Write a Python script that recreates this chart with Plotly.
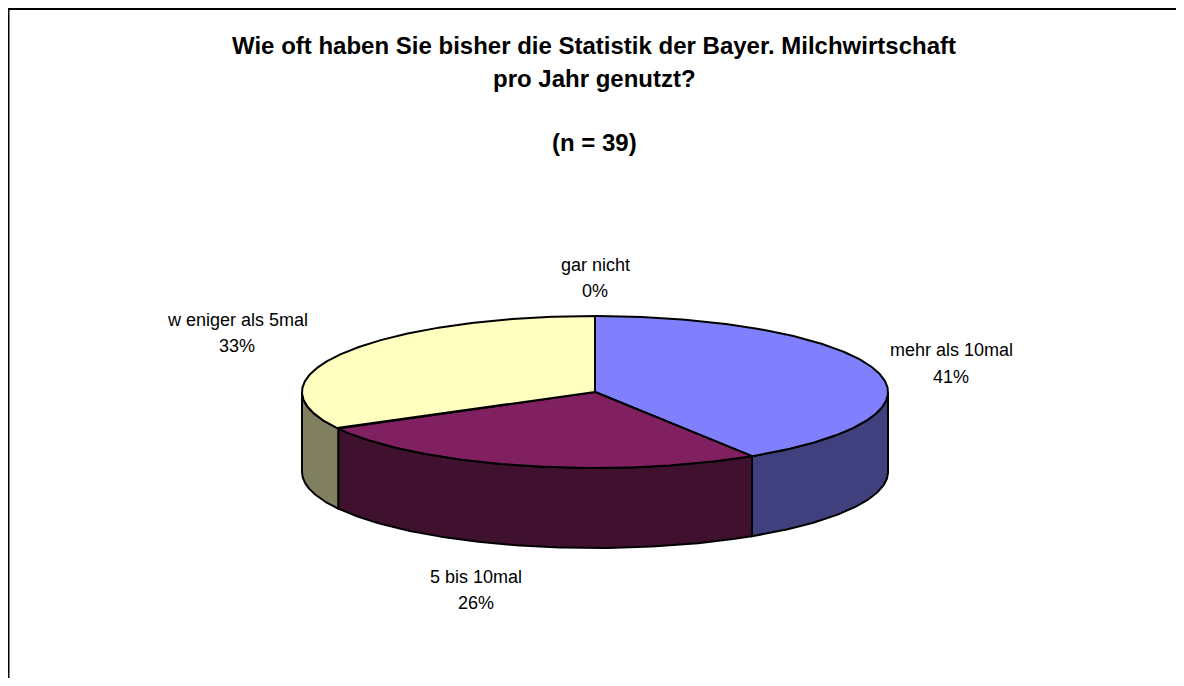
import numpy as np
import plotly.graph_objects as go

# ---- data ----
categories = ["gar nicht", "mehr als 10mal", "5 bis 10mal", "w eniger als 5mal"]
values = [0, 41, 26, 33]
top_colors = ["#FFFFFF", "#8080FF", "#802060", "#FFFFC0"]
side_colors = ["#FFFFFF", "#40407F", "#40102F", "#808060"]
title_lines = ["Wie oft haben Sie bisher die Statistik der Bayer. Milchwirtschaft",
               "pro Jahr genutzt?", "(n = 39)"]

# ---- geometry (screen pixel space; page body has an 8px margin) ----
OFF = 8
W, H = 1184 - 2 * OFF, 686 - 2 * OFF
cx, cy = 595, 392
rx, ry = 293, 76
depth = 80

def pt(theta_deg, dy=0.0):
    t = np.radians(theta_deg)
    return cx + rx * np.sin(t), cy - ry * np.cos(t) + dy

fig = go.Figure()

total = float(sum(values))
bounds = []
acc = 0.0
for v in values:
    start = acc / total * 360.0
    acc += v
    end = acc / total * 360.0
    bounds.append((start, end))

# side walls (front half only: 90..270 deg)
for (s, e), col in zip(bounds, side_colors):
    a, b = max(s, 90.0), min(e, 270.0)
    if b <= a:
        continue
    th = np.linspace(a, b, 120)
    xt, yt = pt(th)
    xb, yb = pt(th[::-1], depth)
    xs = np.concatenate([xt, xb, xt[:1]])
    ys = np.concatenate([yt, yb, yt[:1]])
    fig.add_trace(go.Scatter(x=xs, y=ys, mode="lines", fill="toself",
                             fillcolor=col, line=dict(color="black", width=2),
                             hoverinfo="skip", showlegend=False))

# top faces
for (s, e), col in zip(bounds, top_colors):
    if e - s <= 0:
        continue
    th = np.linspace(s, e, 240)
    xa, ya = pt(th)
    xs = np.concatenate([[cx], xa, [cx]])
    ys = np.concatenate([[cy], ya, [cy]])
    fig.add_trace(go.Scatter(x=xs, y=ys, mode="lines", fill="toself",
                             fillcolor=col, line=dict(color="black", width=2),
                             hoverinfo="skip", showlegend=False))
# zero-size slice boundary at the top
x0, y0 = pt(0)
fig.add_trace(go.Scatter(x=[cx, x0], y=[cy, y0], mode="lines",
                         line=dict(color="black", width=2),
                         hoverinfo="skip", showlegend=False))

FONT = "Liberation Sans, Arial"
# labels: (x, y of name line, y of percent line)
label_pos = [(595, 265, 291), (951, 350, 377), (476, 577, 603), (237, 320, 346)]
for cat, v, (lx, ly1, ly2) in zip(categories, values, label_pos):
    fig.add_annotation(x=lx, y=ly1, xref="x", yref="y", text=cat,
                       showarrow=False, font=dict(family=FONT, size=18, color="black"))
    fig.add_annotation(x=lx, y=ly2, xref="x", yref="y",
                       text=f"{round(v / total * 100)}%",
                       showarrow=False, font=dict(family=FONT, size=18, color="black"))

# title lines
for txt, ty in zip(title_lines, [45, 78, 142]):
    fig.add_annotation(x=594, y=ty, xref="x", yref="y", text=f"<b>{txt}</b>",
                       showarrow=False, font=dict(family=FONT, size=24, color="black"))

# border (left and top edges; right/bottom lie outside the picture)
fig.add_shape(type="path", path=f"M {OFF + 0.5},{OFF + H + 40} L {OFF + 0.5},{OFF + 1} L {OFF + W + 40},{OFF + 1}",
              xref="x", yref="y", line=dict(color="black", width=2), layer="below")

fig.update_xaxes(range=[OFF, OFF + W], visible=False, fixedrange=True)
fig.update_yaxes(range=[OFF + H, OFF], visible=False, fixedrange=True)
fig.update_layout(width=W, height=H, margin=dict(l=0, r=0, t=0, b=0),
                  plot_bgcolor="white", paper_bgcolor="white")

fig.write_html("out.html")
